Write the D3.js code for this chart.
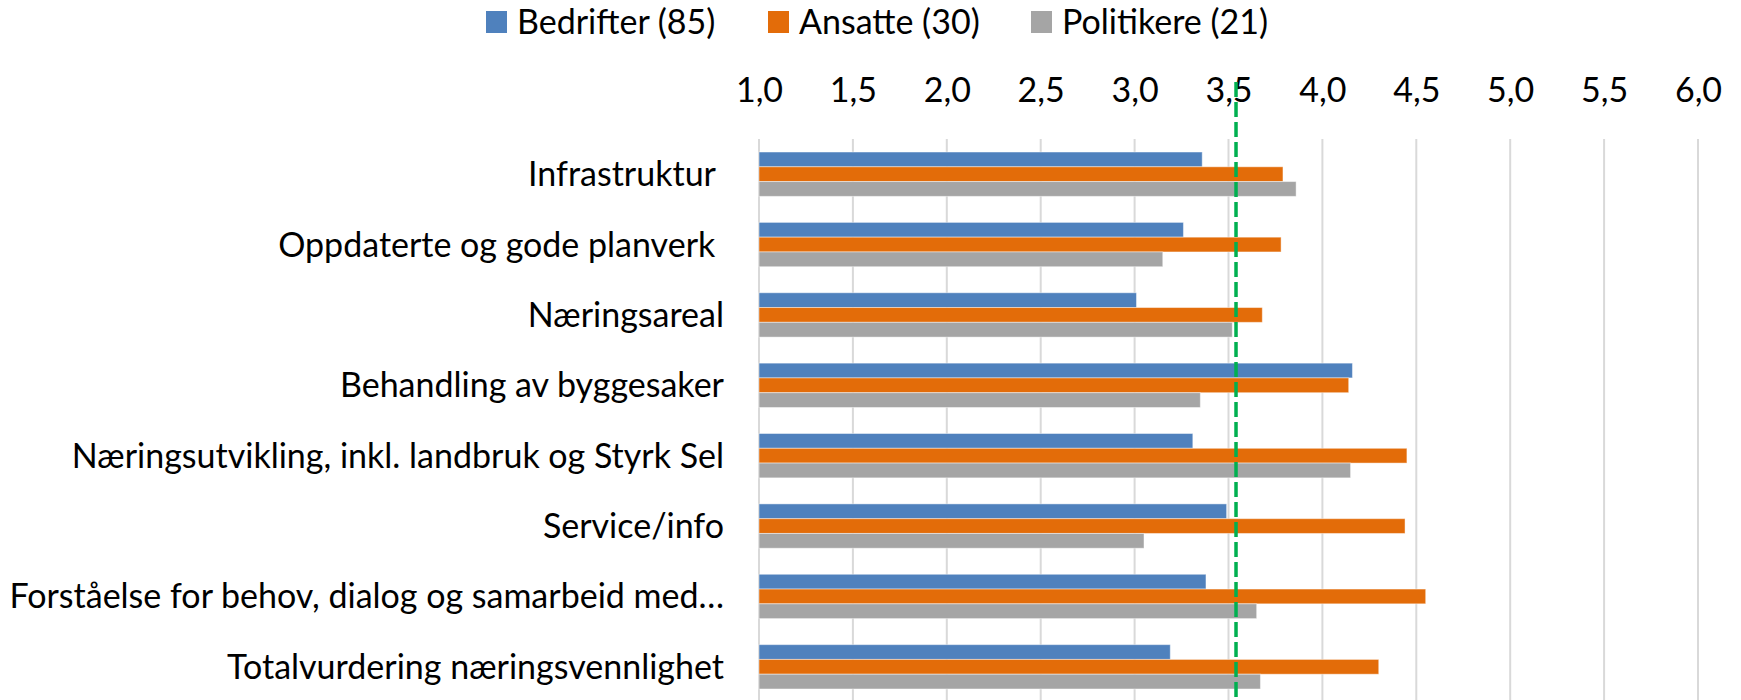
<!DOCTYPE html>
<html><head><meta charset="utf-8">
<script src="https://cdn.jsdelivr.net/npm/d3@7"></script>
<style>
html,body{margin:0;padding:0;background:#fff;}
svg text{font-family:Lato,"Open Sans",sans-serif;fill:#000;}
</style></head>
<body>
<svg id="chart" width="1741" height="700"></svg>
<script>
const categories = [
  "Infrastruktur ",
  "Oppdaterte og gode planverk ",
  "Næringsareal",
  "Behandling av byggesaker",
  "Næringsutvikling, inkl. landbruk og Styrk Sel",
  "Service/info",
  "Forståelse for behov, dialog og samarbeid med…",
  "Totalvurdering næringsvennlighet"
];
const seriesNames = ["Bedrifter (85)", "Ansatte (30)", "Politikere (21)"];
const bedrifter  = [3.36, 3.26, 3.01, 4.16, 3.31, 3.49, 3.38, 3.19];
const ansatte    = [3.79, 3.78, 3.68, 4.14, 4.45, 4.44, 4.55, 4.30];
const politikere = [3.86, 3.15, 3.52, 3.35, 4.15, 3.05, 3.65, 3.67];
const referenceValue = 3.54;
const tickValues = [1.0, 1.5, 2.0, 2.5, 3.0, 3.5, 4.0, 4.5, 5.0, 5.5, 6.0];
const colors = ["#4f81bd", "#e36c09", "#a5a5a5"];

const seriesValues = [bedrifter, ansatte, politikere];
const svg = d3.select("#chart");
const fontSize = 34;
const legendFontSize = 34;

const x = d3.scaleLinear().domain([1, 6]).range([759, 1698]);
const y = d3.scaleBand().domain(categories).range([139, 702]).paddingInner(0.37).paddingOuter(0.185);
const ys = d3.scaleBand().domain(seriesNames).range([0, y.bandwidth()]);

// gridlines
svg.append("g").selectAll("line").data(tickValues).join("line")
  .attr("x1", d => x(d)).attr("x2", d => x(d))
  .attr("y1", 139).attr("y2", 702)
  .attr("stroke", "#d9d9d9").attr("stroke-width", 2);

// axis labels at top
const axis = d3.axisTop(x).tickValues(tickValues).tickSize(0).tickPadding(0)
  .tickFormat(d => d3.format(".1f")(d).replace(".", ","));
const ag = svg.append("g").attr("transform", "translate(0,102)").call(axis);
ag.select(".domain").remove();
ag.selectAll("text").attr("font-size", fontSize).attr("font-family", "Lato").attr("fill", "#000");

// bars
const groups = svg.append("g").selectAll("g").data(categories).join("g")
  .attr("transform", d => `translate(0,${y(d)})`);
groups.selectAll("rect").data((c, i) => seriesNames.map((s, j) => ({s, j, v: seriesValues[j][i]})))
  .join("rect")
  .attr("x", x(1)).attr("y", d => ys(d.s))
  .attr("width", d => x(d.v) - x(1)).attr("height", ys.bandwidth())
  .attr("fill", d => colors[d.j])
  .attr("stroke", "#ffffff").attr("stroke-opacity", 0.45).attr("stroke-width", 1);

// category labels
svg.append("g").selectAll("text").data(categories).join("text")
  .attr("x", 724).attr("y", d => y(d) + y.bandwidth() / 2 + 12)
  .attr("text-anchor", "end")
  .attr("font-size", fontSize).style("white-space", "pre")
  .text(d => d);

// reference dashed line
svg.append("line")
  .attr("x1", x(referenceValue)).attr("x2", x(referenceValue))
  .attr("y1", 82).attr("y2", 700)
  .attr("stroke", "#00b050").attr("stroke-width", 3.5)
  .attr("stroke-dasharray", "15,5");

// legend
const legendX = [486, 768, 1031];
const lg = svg.append("g").selectAll("g").data(seriesNames).join("g")
  .attr("transform", (d, i) => `translate(${legendX[i]},0)`);
lg.append("rect").attr("x", 0).attr("y", 11).attr("width", 21).attr("height", 22)
  .attr("fill", (d, i) => colors[i]);
lg.append("text").attr("x", 31).attr("y", 34)
  .attr("font-size", legendFontSize).text(d => d);
</script>
</body></html>
